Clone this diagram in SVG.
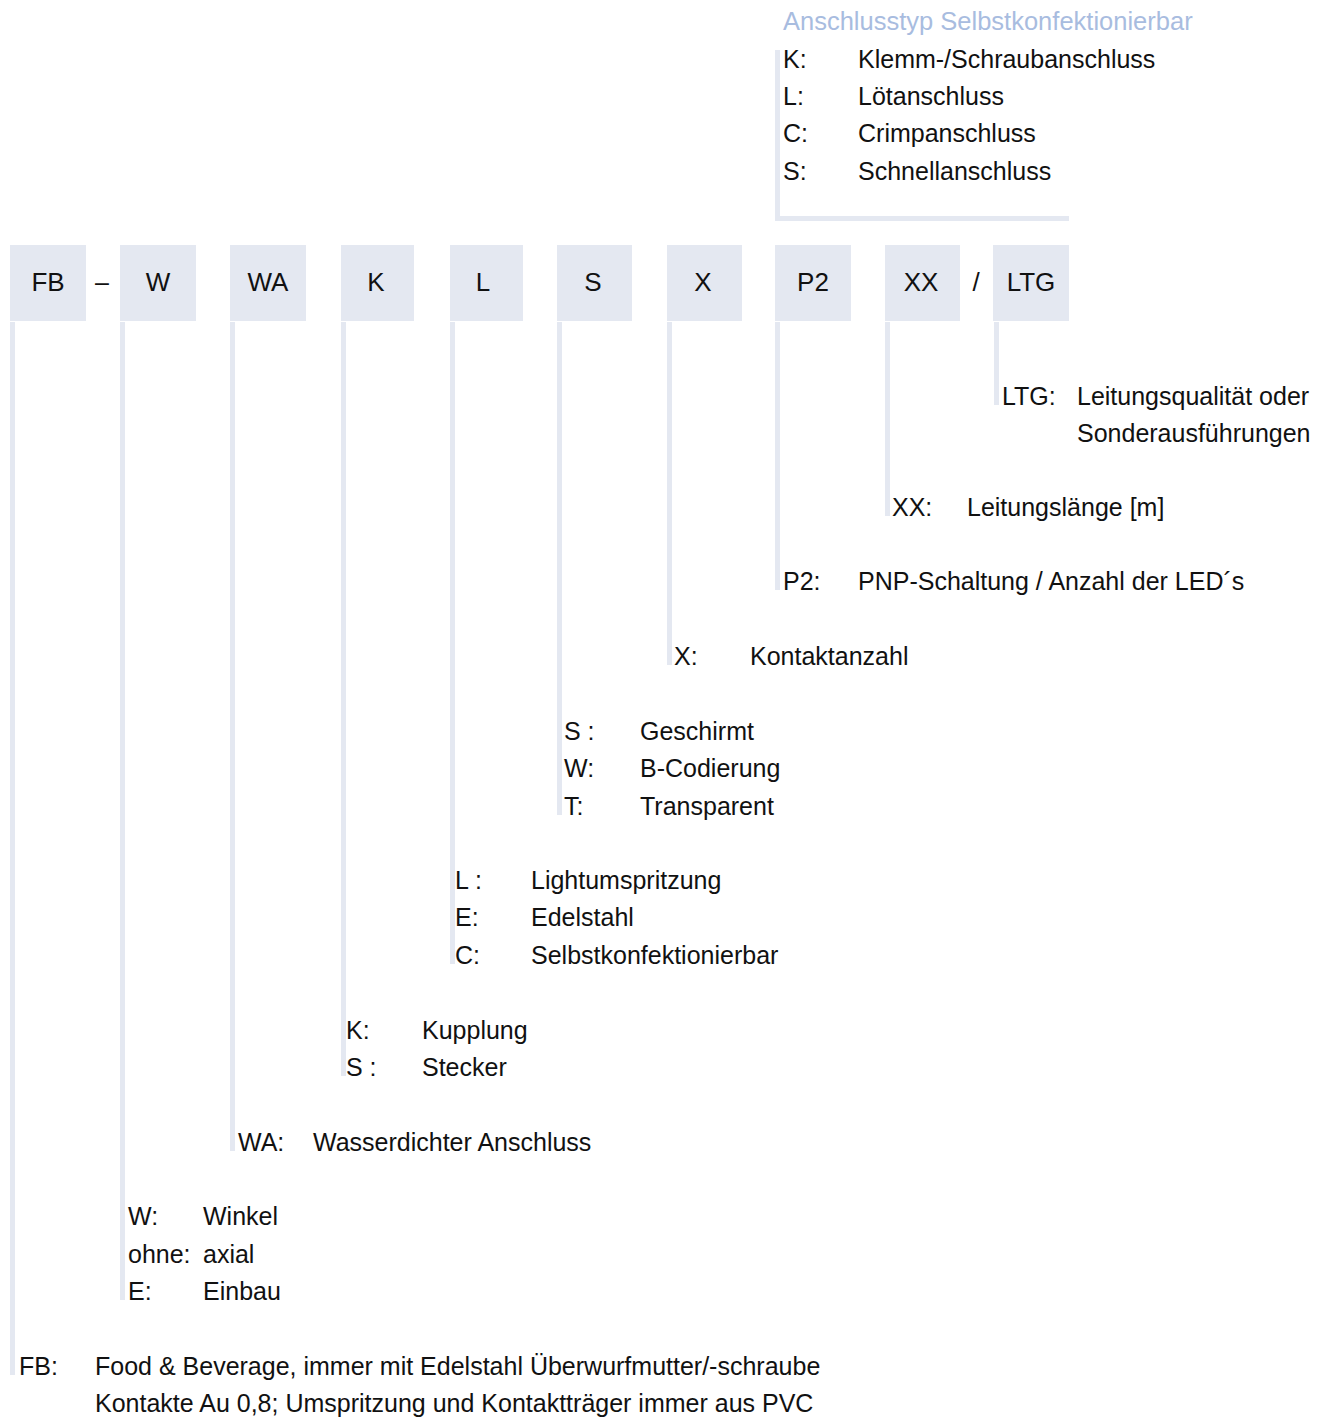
<svg xmlns="http://www.w3.org/2000/svg" width="1325" height="1418" viewBox="0 0 1325 1418">
<style>
.box{fill:#e4e8f1}
.ln{fill:#e4e8f1}
.bt{font-family:"Liberation Sans",Arial,sans-serif;font-size:26px;fill:#111;text-anchor:middle}
.t{font-family:"Liberation Sans",Arial,sans-serif;font-size:25px;fill:#111}
.ttl{font-family:"Liberation Sans",Arial,sans-serif;font-size:25.5px;fill:#a8bcdf}
</style>
<rect width="1325" height="1418" fill="#fff"/>
<g id="connectors">
<rect class="ln" x="10" y="322" width="5" height="1053"/>
<rect class="ln" x="120" y="322" width="5" height="978"/>
<rect class="ln" x="230" y="322" width="5" height="829"/>
<rect class="ln" x="341" y="322" width="5" height="754"/>
<rect class="ln" x="450" y="322" width="5" height="642"/>
<rect class="ln" x="557" y="322" width="5" height="493"/>
<rect class="ln" x="667" y="322" width="5" height="343"/>
<rect class="ln" x="775" y="322" width="5" height="268"/>
<rect class="ln" x="885" y="322" width="5" height="194"/>
<rect class="ln" x="994" y="322" width="5" height="83"/>
<rect class="ln" x="775" y="50" width="5" height="171"/>
<rect class="ln" x="775" y="216" width="294" height="5"/>
</g>
<g id="node-FB"><rect class="box" x="10" y="245" width="76" height="76"/><text class="bt" x="48" y="291">FB</text></g>
<text class="t" x="102" y="291" text-anchor="middle">–</text>
<g id="node-W"><rect class="box" x="120" y="245" width="76" height="76"/><text class="bt" x="158" y="291">W</text></g>
<g id="node-WA"><rect class="box" x="230" y="245" width="76" height="76"/><text class="bt" x="268" y="291">WA</text></g>
<g id="node-K"><rect class="box" x="341" y="245" width="73" height="76"/><text class="bt" x="376" y="291">K</text></g>
<g id="node-L"><rect class="box" x="450" y="245" width="73" height="76"/><text class="bt" x="483" y="291">L</text></g>
<g id="node-S"><rect class="box" x="557" y="245" width="75" height="76"/><text class="bt" x="593" y="291">S</text></g>
<g id="node-X"><rect class="box" x="667" y="245" width="75" height="76"/><text class="bt" x="703" y="291">X</text></g>
<g id="node-P2"><rect class="box" x="775" y="245" width="76" height="76"/><text class="bt" x="813" y="291">P2</text></g>
<g id="node-XX"><rect class="box" x="885" y="245" width="75" height="76"/><text class="bt" x="921" y="291">XX</text></g>
<text class="bt" x="976" y="291">/</text>
<g id="node-LTG"><rect class="box" x="993" y="245" width="76" height="76"/><text class="bt" x="1031" y="291">LTG</text></g>

<g id="legend-anschluss">
<text class="ttl" x="783" y="30">Anschlusstyp Selbstkonfektionierbar</text>
<text class="t" x="783" y="68">K:</text><text class="t" x="858" y="68">Klemm-/Schraubanschluss</text>
<text class="t" x="783" y="105">L:</text><text class="t" x="858" y="105">Lötanschluss</text>
<text class="t" x="783" y="142">C:</text><text class="t" x="858" y="142">Crimpanschluss</text>
<text class="t" x="783" y="180">S:</text><text class="t" x="858" y="180">Schnellanschluss</text>
</g>
<g id="label-LTG">
<text class="t" x="1002" y="405">LTG:</text><text class="t" x="1077" y="405">Leitungsqualität oder</text>
<text class="t" x="1077" y="442">Sonderausführungen</text>
</g>
<g id="label-XX"><text class="t" x="892" y="516">XX:</text><text class="t" x="967" y="516">Leitungslänge [m]</text></g>
<g id="label-P2"><text class="t" x="783" y="590">P2:</text><text class="t" x="858" y="590">PNP-Schaltung / Anzahl der LED´s</text></g>
<g id="label-X"><text class="t" x="674" y="665">X:</text><text class="t" x="750" y="665">Kontaktanzahl</text></g>
<g id="label-S">
<text class="t" x="564" y="740">S :</text><text class="t" x="640" y="740">Geschirmt</text>
<text class="t" x="564" y="777">W:</text><text class="t" x="640" y="777">B-Codierung</text>
<text class="t" x="564" y="815">T:</text><text class="t" x="640" y="815">Transparent</text>
</g>
<g id="label-L">
<text class="t" x="455" y="889">L :</text><text class="t" x="531" y="889">Lightumspritzung</text>
<text class="t" x="455" y="926">E:</text><text class="t" x="531" y="926">Edelstahl</text>
<text class="t" x="455" y="964">C:</text><text class="t" x="531" y="964">Selbstkonfektionierbar</text>
</g>
<g id="label-K">
<text class="t" x="346" y="1039">K:</text><text class="t" x="422" y="1039">Kupplung</text>
<text class="t" x="346" y="1076">S :</text><text class="t" x="422" y="1076">Stecker</text>
</g>
<g id="label-WA"><text class="t" x="238" y="1151">WA:</text><text class="t" x="313" y="1151">Wasserdichter Anschluss</text></g>
<g id="label-W">
<text class="t" x="128" y="1225">W:</text><text class="t" x="203" y="1225">Winkel</text>
<text class="t" x="128" y="1263">ohne:</text><text class="t" x="203" y="1263">axial</text>
<text class="t" x="128" y="1300">E:</text><text class="t" x="203" y="1300">Einbau</text>
</g>
<g id="label-FB">
<text class="t" x="19" y="1375">FB:</text><text class="t" x="95" y="1375">Food &amp; Beverage, immer mit Edelstahl Überwurfmutter/-schraube</text>
<text class="t" x="95" y="1412">Kontakte Au 0,8; Umspritzung und Kontaktträger immer aus PVC</text>
</g>
</svg>
